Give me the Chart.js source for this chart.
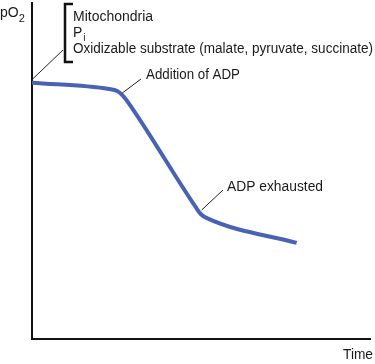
<!DOCTYPE html>
<html>
<head>
<meta charset="utf-8">
<script src="https://cdn.jsdelivr.net/npm/chart.js@4.4.0/dist/chart.umd.min.js"></script>
<style>
  body { margin: 0; background: #fff; }
  canvas { display: block; }
</style>
</head>
<body>
<canvas id="chart" width="375" height="364"></canvas>
<script>
// oxygen trace (arbitrary units, 0-100 on both axes)
const timeValues = [0, 22.8, 25.2, 27.0, 28.8, 48.4, 49.9, 51.9, 78.3];
const po2Values  = [76.3, 74.4, 73.8, 72.3, 69.9, 39.3, 37.2, 35.9, 28.6];

const axisLabels = { y: 'pO', ySub: '2', x: 'Time' };
const bracketLines = ['Mitochondria', 'P', 'Oxidizable substrate (malate, pyruvate, succinate)'];
const eventLabels = ['Addition of ADP', 'ADP exhausted'];

const FONT = '"Liberation Sans", Arial, sans-serif';
const TEXT = '#1a1a1a';

const labelsPlugin = {
  id: 'labels',
  afterDraw(chart) {
    const ctx = chart.ctx;
    const xs = chart.scales.x, ys = chart.scales.y;
    const px = v => xs.getPixelForValue(v);
    const py = v => ys.getPixelForValue(v);
    ctx.save();
    ctx.fillStyle = TEXT;
    ctx.textBaseline = 'alphabetic';
    ctx.textAlign = 'left';

    // axis titles
    ctx.font = '14px ' + FONT;
    ctx.fillText(axisLabels.y, 0, 17);
    const w = ctx.measureText(axisLabels.y).width;
    ctx.font = '11px ' + FONT;
    ctx.fillText(axisLabels.ySub, w, 22);
    ctx.font = '14px ' + FONT;
    ctx.textAlign = 'right';
    ctx.fillText(axisLabels.x, 373, 359, 30);
    ctx.textAlign = 'left';

    // bracket with the contents
    ctx.strokeStyle = '#111';
    ctx.lineWidth = 2.5;
    ctx.beginPath();
    ctx.moveTo(73, 4);
    ctx.lineTo(65, 4);
    ctx.lineTo(65, 62);
    ctx.lineTo(73, 62);
    ctx.stroke();

    ctx.font = '14px ' + FONT;
    ctx.fillText(bracketLines[0], 73, 21);
    ctx.fillText(bracketLines[1], 73, 37);
    const pw = ctx.measureText(bracketLines[1]).width;
    ctx.font = '10px ' + FONT;
    ctx.fillText('i', 73 + pw + 1, 41);
    ctx.font = '14px ' + FONT;
    ctx.fillText(bracketLines[2], 73, 53, 300);

    // leader lines
    ctx.strokeStyle = '#222';
    ctx.lineWidth = 1;
    const leader = (x1, y1, x2, y2) => {
      ctx.beginPath();
      ctx.moveTo(x1, y1);
      ctx.lineTo(x2, y2);
      ctx.stroke();
    };
    leader(px(0), py(po2Values[0]) - 3, 63, 50);
    leader(px(timeValues[3]) - 1, py(po2Values[3]) - 3, 141, 79);
    leader(px(timeValues[6]) + 1, py(po2Values[6]) - 4, 223, 190);

    ctx.font = '14px ' + FONT;
    ctx.fillText(eventLabels[0], 146, 79, 94);
    ctx.fillText(eventLabels[1], 227, 191, 96);
    ctx.restore();
  }
};

new Chart(document.getElementById('chart'), {
  type: 'line',
  data: {
    labels: timeValues,
    datasets: [{
      data: timeValues.map((t, i) => ({ x: t, y: po2Values[i] })),
      borderColor: '#4863b5',
      borderWidth: 4,
      pointRadius: 0,
      cubicInterpolationMode: 'monotone',
      fill: false
    }]
  },
  options: {
    responsive: false,
    animation: false,
    layout: { padding: { left: 32, top: 3, right: 5, bottom: 25 } },
    plugins: { legend: { display: false }, tooltip: { enabled: false } },
    scales: {
      x: {
        type: 'linear', min: 0, max: 100,
        ticks: { display: false, padding: 0 },
        grid: { display: false, drawTicks: false, tickLength: 0 },
        border: { color: '#111', width: 2 }
      },
      y: {
        min: 0, max: 100,
        ticks: { display: false, padding: 0 },
        grid: { display: false, drawTicks: false, tickLength: 0 },
        border: { color: '#111', width: 2 }
      }
    }
  },
  plugins: [labelsPlugin]
});
</script>
</body>
</html>
